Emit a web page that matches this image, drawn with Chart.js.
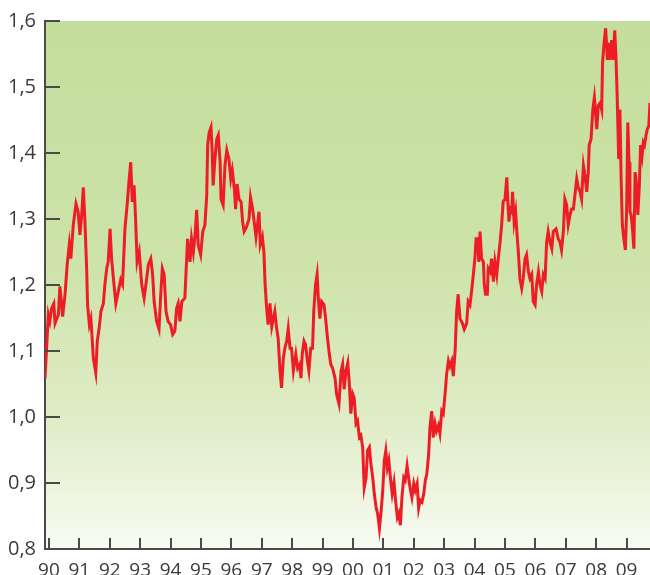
<!DOCTYPE html>
<html>
<head>
<meta charset="utf-8">
<script src="https://cdn.jsdelivr.net/npm/chart.js@4"></script>
<style>
  html, body { margin: 0; padding: 0; background: #fff; }
  canvas { display: block; }
</style>
</head>
<body>
<canvas id="rateChart" width="650" height="575"></canvas>
<script>
// --- DATOS ---
const dates = [
  1989.87, 1989.98, 1990.03, 1990.09, 1990.16, 1990.20, 1990.31, 1990.36, 1990.45, 1990.53,
  1990.60, 1990.67, 1990.72, 1990.80, 1990.89, 1990.96, 1991.02, 1991.08, 1991.13, 1991.18,
  1991.24, 1991.27, 1991.33, 1991.38, 1991.42, 1991.46, 1991.54, 1991.59, 1991.65, 1991.71,
  1991.79, 1991.84, 1991.90, 1991.95, 1992.01, 1992.06, 1992.12, 1992.20, 1992.28, 1992.36,
  1992.42, 1992.50, 1992.58, 1992.64, 1992.69, 1992.74, 1992.80, 1992.85, 1992.90, 1992.97,
  1993.05, 1993.13, 1993.19, 1993.27, 1993.35, 1993.41, 1993.46, 1993.54, 1993.62, 1993.67,
  1993.73, 1993.79, 1993.85, 1993.92, 1994.00, 1994.07, 1994.14, 1994.20, 1994.25, 1994.31,
  1994.37, 1994.47, 1994.56, 1994.64, 1994.69, 1994.75, 1994.80, 1994.86, 1994.91, 1994.99,
  1995.06, 1995.13, 1995.19, 1995.22, 1995.27, 1995.33, 1995.37, 1995.40, 1995.46, 1995.52,
  1995.57, 1995.63, 1995.66, 1995.73, 1995.79, 1995.85, 1995.92, 1995.98, 1996.03, 1996.10,
  1996.14, 1996.19, 1996.25, 1996.32, 1996.37, 1996.42, 1996.50, 1996.58, 1996.63, 1996.70,
  1996.75, 1996.81, 1996.87, 1996.91, 1996.95, 1997.02, 1997.07, 1997.11, 1997.16, 1997.21,
  1997.27, 1997.33, 1997.38, 1997.43, 1997.49, 1997.54, 1997.60, 1997.65, 1997.71, 1997.76,
  1997.82, 1997.87, 1997.93, 1997.98, 1998.04, 1998.12, 1998.18, 1998.25, 1998.29, 1998.33,
  1998.39, 1998.44, 1998.50, 1998.55, 1998.61, 1998.67, 1998.71, 1998.77, 1998.82, 1998.86,
  1998.91, 1998.97, 1999.05, 1999.10, 1999.15, 1999.21, 1999.27, 1999.33, 1999.41, 1999.46,
  1999.54, 1999.61, 1999.66, 1999.71, 1999.77, 1999.83, 1999.88, 1999.93, 1999.99, 2000.04,
  2000.10, 2000.15, 2000.21, 2000.26, 2000.32, 2000.37, 2000.43, 2000.48, 2000.54, 2000.59,
  2000.65, 2000.70, 2000.76, 2000.81, 2000.87, 2000.92, 2000.98, 2001.03, 2001.08, 2001.13,
  2001.18, 2001.24, 2001.29, 2001.35, 2001.40, 2001.46, 2001.51, 2001.56, 2001.61, 2001.67,
  2001.72, 2001.78, 2001.83, 2001.88, 2001.94, 2002.00, 2002.05, 2002.11, 2002.16, 2002.21,
  2002.27, 2002.33, 2002.38, 2002.43, 2002.49, 2002.53, 2002.59, 2002.64, 2002.70, 2002.75,
  2002.81, 2002.86, 2002.92, 2002.97, 2003.03, 2003.08, 2003.14, 2003.19, 2003.25, 2003.30,
  2003.36, 2003.41, 2003.46, 2003.52, 2003.60, 2003.66, 2003.74, 2003.79, 2003.85, 2003.90,
  2003.96, 2004.01, 2004.05, 2004.10, 2004.14, 2004.18, 2004.23, 2004.29, 2004.32, 2004.36,
  2004.42, 2004.45, 2004.51, 2004.56, 2004.62, 2004.67, 2004.73, 2004.78, 2004.84, 2004.89,
  2004.94, 2005.00, 2005.06, 2005.09, 2005.13, 2005.17, 2005.22, 2005.25, 2005.30, 2005.35,
  2005.39, 2005.44, 2005.49, 2005.55, 2005.60, 2005.66, 2005.71, 2005.77, 2005.82, 2005.88,
  2005.93, 2005.99, 2006.04, 2006.10, 2006.15, 2006.21, 2006.26, 2006.32, 2006.37, 2006.42,
  2006.48, 2006.54, 2006.59, 2006.68, 2006.75, 2006.81, 2006.86, 2006.92, 2006.97, 2007.03,
  2007.08, 2007.14, 2007.19, 2007.25, 2007.30, 2007.36, 2007.41, 2007.47, 2007.52, 2007.58,
  2007.63, 2007.69, 2007.74, 2007.77, 2007.83, 2007.89, 2007.94, 2007.98, 2008.02, 2008.07,
  2008.13, 2008.18, 2008.21, 2008.26, 2008.31, 2008.37, 2008.41, 2008.45, 2008.51, 2008.56,
  2008.61, 2008.65, 2008.69, 2008.74, 2008.78, 2008.82, 2008.86, 2008.91, 2008.96, 2009.00,
  2009.04, 2009.08, 2009.11, 2009.15, 2009.20, 2009.24, 2009.28, 2009.33, 2009.37, 2009.42,
  2009.46, 2009.51, 2009.55, 2009.59, 2009.64, 2009.68, 2009.73, 2009.77
];
const rates = [
  1.059, 1.155, 1.145, 1.165, 1.172, 1.142, 1.155, 1.198, 1.152, 1.186,
  1.231, 1.262, 1.240, 1.291, 1.323, 1.311, 1.276, 1.308, 1.348, 1.300,
  1.225, 1.170, 1.140, 1.149, 1.119, 1.089, 1.067, 1.115, 1.134, 1.160,
  1.172, 1.201, 1.225, 1.235, 1.285, 1.240, 1.210, 1.172, 1.190, 1.208,
  1.201, 1.285, 1.326, 1.361, 1.386, 1.326, 1.351, 1.300, 1.235, 1.250,
  1.201, 1.180, 1.201, 1.231, 1.240, 1.216, 1.175, 1.145, 1.133, 1.180,
  1.225, 1.216, 1.160, 1.145, 1.140, 1.125, 1.130, 1.165, 1.172, 1.145,
  1.175, 1.180, 1.270, 1.235, 1.270, 1.250, 1.273, 1.314, 1.261, 1.246,
  1.281, 1.291, 1.336, 1.412, 1.431, 1.439, 1.401, 1.351, 1.391, 1.421,
  1.427, 1.386, 1.330, 1.321, 1.381, 1.404, 1.391, 1.361, 1.374, 1.345,
  1.315, 1.353, 1.330, 1.326, 1.296, 1.281, 1.288, 1.300, 1.333, 1.315,
  1.296, 1.273, 1.296, 1.311, 1.261, 1.273, 1.250, 1.201, 1.165, 1.140,
  1.172, 1.137, 1.149, 1.160, 1.134, 1.119, 1.070, 1.044, 1.089, 1.104,
  1.115, 1.134, 1.104, 1.104, 1.070, 1.095, 1.074, 1.080, 1.059, 1.095,
  1.115, 1.110, 1.085, 1.070, 1.104, 1.104, 1.160, 1.201, 1.216, 1.180,
  1.149, 1.175, 1.170, 1.149, 1.125, 1.100, 1.080, 1.074, 1.059, 1.035,
  1.020, 1.070, 1.080, 1.042, 1.070, 1.082, 1.050, 1.005, 1.035, 1.029,
  0.990, 0.994, 0.969, 0.972, 0.954, 0.893, 0.908, 0.949, 0.954, 0.929,
  0.908, 0.884, 0.863, 0.854, 0.831, 0.854, 0.889, 0.934, 0.949, 0.923,
  0.934, 0.904, 0.884, 0.901, 0.874, 0.848, 0.854, 0.836, 0.878, 0.908,
  0.904, 0.926, 0.908, 0.892, 0.878, 0.899, 0.889, 0.899, 0.862, 0.874,
  0.871, 0.884, 0.904, 0.914, 0.944, 0.984, 1.009, 0.969, 0.990, 0.979,
  0.987, 0.975, 1.009, 1.005, 1.035, 1.065, 1.085, 1.077, 1.085, 1.062,
  1.100, 1.160, 1.186, 1.149, 1.142, 1.133, 1.142, 1.175, 1.170, 1.190,
  1.216, 1.240, 1.270, 1.270, 1.235, 1.281, 1.240, 1.235, 1.201, 1.186,
  1.186, 1.225, 1.220, 1.240, 1.205, 1.235, 1.216, 1.240, 1.265, 1.291,
  1.326, 1.330, 1.363, 1.330, 1.296, 1.315, 1.311, 1.341, 1.296, 1.311,
  1.281, 1.250, 1.210, 1.195, 1.210, 1.240, 1.246, 1.220, 1.210, 1.216,
  1.175, 1.170, 1.201, 1.220, 1.201, 1.190, 1.216, 1.210, 1.265, 1.281,
  1.265, 1.255, 1.281, 1.285, 1.270, 1.265, 1.253, 1.281, 1.330, 1.321,
  1.291, 1.306, 1.315, 1.315, 1.336, 1.361, 1.348, 1.341, 1.330, 1.381,
  1.366, 1.341, 1.371, 1.412, 1.421, 1.466, 1.484, 1.461, 1.436, 1.472,
  1.476, 1.466, 1.537, 1.567, 1.589, 1.541, 1.567, 1.541, 1.571, 1.541,
  1.586, 1.547, 1.487, 1.391, 1.466, 1.361, 1.291, 1.270, 1.253, 1.311,
  1.446, 1.386, 1.311, 1.306, 1.281, 1.255, 1.371, 1.351, 1.306, 1.351,
  1.412, 1.396, 1.416, 1.412, 1.427, 1.436, 1.441, 1.476
];
const yearTicks = [1990, 1991, 1992, 1993, 1994, 1995, 1996, 1997, 1998, 1999,
                   2000, 2001, 2002, 2003, 2004, 2005, 2006, 2007, 2008, 2009];
const yearLabels = ['90', '91', '92', '93', '94', '95', '96', '97', '98', '99',
                    '00', '01', '02', '03', '04', '05', '06', '07', '08', '09'];
const rateTicks = [0.8, 0.9, 1.0, 1.1, 1.2, 1.3, 1.4, 1.5, 1.6];
const rateLabels = ['0,8', '0,9', '1,0', '1,1', '1,2', '1,3', '1,4', '1,5', '1,6'];

const AXIS_COLOR = '#4a4a4a';

// fondo degradado verde del área de trazado
const plotBackground = {
    id: 'plotBackground',
    beforeDraw(chart) {
        const { ctx, chartArea: a } = chart;
        const g = ctx.createLinearGradient(0, a.top, 0, a.bottom);
        g.addColorStop(0, '#c4dd9b');
        g.addColorStop(0.45, '#cde3a9');
        g.addColorStop(0.75, '#dfecc5');
        g.addColorStop(1, '#f8fbf3');
        ctx.save();
        ctx.fillStyle = g;
        ctx.fillRect(a.left, a.top, a.right - a.left, a.bottom - a.top);
        ctx.restore();
    }
};

// marcas de los ejes hacia dentro
const innerTicks = {
    id: 'innerTicks',
    afterDatasetsDraw(chart) {
        const { ctx, chartArea: a, scales } = chart;
        ctx.save();
        ctx.strokeStyle = AXIS_COLOR;
        ctx.lineWidth = 2;
        ctx.beginPath();
        scales.y.ticks.forEach(t => {
            const y = Math.round(scales.y.getPixelForValue(t.value));
            ctx.moveTo(a.left, y);
            ctx.lineTo(a.left + 15, y);
        });
        scales.x.ticks.forEach(t => {
            const x = Math.round(scales.x.getPixelForValue(t.value));
            ctx.moveTo(x, a.bottom);
            ctx.lineTo(x, a.bottom - 11);
        });
        ctx.stroke();
        ctx.restore();
    }
};

new Chart(document.getElementById('rateChart'), {
    type: 'line',
    data: {
        datasets: [{
            data: dates.map((d, i) => ({ x: d, y: rates[i] })),
            borderColor: '#ee1c25',
            borderWidth: 3,
            pointRadius: 0,
            tension: 0,
            fill: false
        }]
    },
    options: {
        responsive: false,
        animation: false,
        layout: { padding: { top: 18, left: 0, right: 0, bottom: 0 } },
        plugins: { legend: { display: false }, tooltip: { enabled: false } },
        scales: {
            x: {
                type: 'linear',
                min: 1989.87,
                max: 2009.77,
                afterBuildTicks: s => { s.ticks = yearTicks.map(v => ({ value: v })); },
                afterFit: s => { s.height = 26; },
                grid: { display: false, drawTicks: false },
                border: { display: true, color: AXIS_COLOR, width: 2 },
                ticks: {
                    autoSkip: false,
                    maxRotation: 0,
                    padding: 10,
                    color: '#3a3a3a',
                    font: { family: 'Open Sans', size: 19 },
                    callback: (v, i) => yearLabels[i]
                }
            },
            y: {
                min: 0.8,
                max: 1.6,
                afterBuildTicks: s => { s.ticks = rateTicks.map(v => ({ value: v })); },
                afterFit: s => { s.width = 45; },
                grid: { display: false, drawTicks: false },
                border: { display: true, color: AXIS_COLOR, width: 2 },
                ticks: {
                    padding: 9,
                    color: '#3a3a3a',
                    font: { family: 'Open Sans', size: 20 },
                    callback: (v, i) => rateLabels[i]
                }
            }
        }
    },
    plugins: [plotBackground, innerTicks]
});
</script>
</body>
</html>
